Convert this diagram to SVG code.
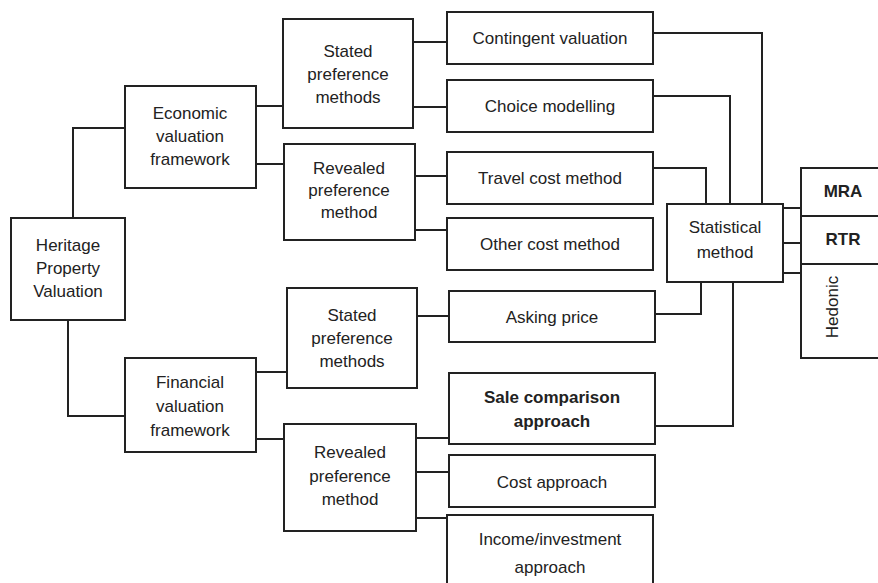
<svg xmlns="http://www.w3.org/2000/svg" width="878" height="583" viewBox="0 0 878 583">
<style>
.box{fill:#fff;stroke:#222;stroke-width:2}
.ln{fill:none;stroke:#222;stroke-width:2}
text{font-family:"Liberation Sans",Arial,sans-serif;font-size:17px;fill:#222;text-anchor:middle}
.b{font-weight:bold}
</style>
<rect width="878" height="583" fill="#fff"/>
<g id="connectors">
<polyline class="ln" points="73,218 73,128 125,128"/>
<polyline class="ln" points="68,320 68,416 125,416"/>
<line class="ln" x1="256" y1="106" x2="283" y2="106"/>
<line class="ln" x1="256" y1="164" x2="284" y2="164"/>
<line class="ln" x1="256" y1="372" x2="287" y2="372"/>
<line class="ln" x1="256" y1="439" x2="284" y2="439"/>
<line class="ln" x1="413" y1="42" x2="447" y2="42"/>
<line class="ln" x1="413" y1="107" x2="447" y2="107"/>
<line class="ln" x1="415" y1="176" x2="447" y2="176"/>
<line class="ln" x1="415" y1="230" x2="447" y2="230"/>
<line class="ln" x1="417" y1="316" x2="449" y2="316"/>
<line class="ln" x1="416" y1="438" x2="449" y2="438"/>
<line class="ln" x1="416" y1="472" x2="449" y2="472"/>
<line class="ln" x1="416" y1="518" x2="447" y2="518"/>
<polyline class="ln" points="653,33 762,33 762,204"/>
<polyline class="ln" points="653,96 730,96 730,204"/>
<polyline class="ln" points="653,168 706,168 706,204"/>
<polyline class="ln" points="655,314 701,314 701,282"/>
<polyline class="ln" points="655,426 733,426 733,282"/>
<line class="ln" x1="783" y1="208" x2="801" y2="208"/>
<line class="ln" x1="783" y1="243" x2="801" y2="243"/>
<line class="ln" x1="783" y1="273" x2="801" y2="273"/>
</g>
<g id="heritage"><rect class="box" x="11" y="218" width="114" height="102"/>
<text x="68" y="251">Heritage</text><text x="68" y="274">Property</text><text x="68" y="297">Valuation</text></g>
<g id="economic"><rect class="box" x="125" y="86" width="131" height="102"/>
<text x="190" y="119">Economic</text><text x="190" y="142">valuation</text><text x="190" y="165">framework</text></g>
<g id="financial"><rect class="box" x="125" y="358" width="131" height="94"/>
<text x="190" y="388">Financial</text><text x="190" y="412">valuation</text><text x="190" y="436">framework</text></g>
<g id="stated-econ"><rect class="box" x="283" y="19" width="130" height="109"/>
<text x="348" y="57">Stated</text><text x="348" y="80">preference</text><text x="348" y="103">methods</text></g>
<g id="revealed-econ"><rect class="box" x="284" y="144" width="131" height="96"/>
<text x="349" y="174">Revealed</text><text x="349" y="196">preference</text><text x="349" y="218">method</text></g>
<g id="stated-fin"><rect class="box" x="287" y="288" width="130" height="100"/>
<text x="352" y="321">Stated</text><text x="352" y="344">preference</text><text x="352" y="367">methods</text></g>
<g id="revealed-fin"><rect class="box" x="284" y="424" width="132" height="107"/>
<text x="350" y="458">Revealed</text><text x="350" y="482">preference</text><text x="350" y="505">method</text></g>
<g id="contingent"><rect class="box" x="447" y="12" width="206" height="52"/><text x="550" y="44">Contingent valuation</text></g>
<g id="choice"><rect class="box" x="447" y="80" width="206" height="52"/><text x="550" y="112">Choice modelling</text></g>
<g id="travel"><rect class="box" x="447" y="152" width="206" height="52"/><text x="550" y="184">Travel cost method</text></g>
<g id="other"><rect class="box" x="447" y="218" width="206" height="52"/><text x="550" y="250">Other cost method</text></g>
<g id="asking"><rect class="box" x="449" y="291" width="206" height="51"/><text x="552" y="323">Asking price</text></g>
<g id="sale"><rect class="box" x="449" y="373" width="206" height="71"/>
<text class="b" x="552" y="403">Sale comparison</text><text class="b" x="552" y="427">approach</text></g>
<g id="cost"><rect class="box" x="449" y="455" width="206" height="52"/><text x="552" y="488">Cost approach</text></g>
<g id="income"><rect class="box" x="447" y="515" width="206" height="80"/>
<text x="550" y="545">Income/investment</text><text x="550" y="573">approach</text></g>
<g id="statistical"><rect class="box" x="667" y="204" width="116" height="78"/>
<text x="725" y="233">Statistical</text><text x="725" y="258">method</text></g>
<g id="mra"><rect class="box" x="801" y="168" width="80" height="48"/><text class="b" x="843" y="197">MRA</text></g>
<g id="rtr"><rect class="box" x="801" y="216" width="80" height="48"/><text class="b" x="843" y="245">RTR</text></g>
<g id="hedonic"><rect class="box" x="801" y="264" width="80" height="94"/><text x="838" y="307" transform="rotate(-90 838 307)">Hedonic</text></g>
</svg>
